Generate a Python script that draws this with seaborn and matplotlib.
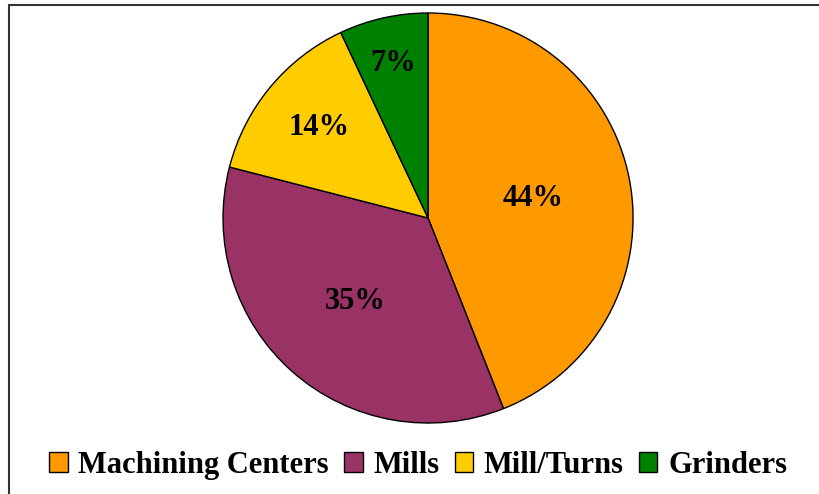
"""
Machine type share - pie chart
"""

import matplotlib
matplotlib.use("Agg")
import matplotlib.pyplot as plt
import matplotlib.patches as mpatches
import numpy as np
import seaborn as sns

# Data
categories = ["Machining Centers", "Mills", "Mill/Turns", "Grinders"]
shares = [44, 35, 14, 7]
colors = ["#FF9900", "#993366", "#FFCC00", "#008000"]

# radial position of each percentage label (fraction of radius)
label_r = [0.52, 0.54, 0.69, 0.77]

sns.set_style("white")
plt.rcParams["font.family"] = ["Liberation Serif", "DejaVu Serif"]
plt.rcParams["text.color"] = "black"

fig = plt.figure(figsize=(8.2, 4.94), dpi=100)
ax = fig.add_axes([0.272, 0.1437, 0.5, 0.83])

wedges, _ = ax.pie(
    shares,
    colors=colors,
    startangle=90,
    counterclock=False,
    wedgeprops=dict(edgecolor="black", linewidth=1.0),
)
ax.set_xlim(-1.0, 1.0)
ax.set_ylim(-1.0, 1.0)
ax.set_aspect("equal")

# percentage labels at each wedge
for w, val, r in zip(wedges, shares, label_r):
    mid = np.deg2rad((w.theta1 + w.theta2) / 2)
    ax.text(r * np.cos(mid), r * np.sin(mid), f"{val}%", color="black",
            ha="center", va="center", fontsize=22, fontweight="bold")

# legend along the bottom
handles = [mpatches.Patch(facecolor=c, edgecolor="black", linewidth=1.0) for c in colors]
leg = fig.legend(handles, categories, loc="center", bbox_to_anchor=(0.51, 0.058),
                 ncol=4, frameon=False, handlelength=0.6, handleheight=0.6,
                 handletextpad=0.35, columnspacing=0.5,
                 prop=dict(size=22, weight="bold"))
for t in leg.get_texts():
    t.set_color("black")

# chart frame (runs off the right and bottom edges)
frame = mpatches.Rectangle((9 / 820, -0.05), 1.2, 0.99 + 0.05, transform=fig.transFigure,
                           fill=False, edgecolor="#333333", linewidth=1.5)
fig.patches.append(frame)

fig.savefig("out.png", dpi=100)
